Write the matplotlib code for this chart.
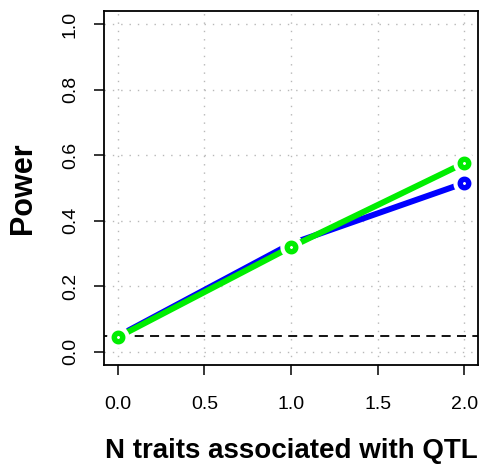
import matplotlib
matplotlib.use("Agg")
import matplotlib.pyplot as plt

# ---- Data ----
n_traits = [0, 1, 2]
power_blue = [0.048, 0.330, 0.515]
power_green = [0.045, 0.320, 0.576]
alpha_level = 0.05

x_ticks = [0.0, 0.5, 1.0, 1.5, 2.0]
y_ticks = [0.0, 0.2, 0.4, 0.6, 0.8, 1.0]

plt.rcParams["font.family"] = ["Liberation Sans", "DejaVu Sans"]

fig = plt.figure(figsize=(4.81, 4.66), dpi=100)
fig.patch.set_facecolor("white")
ax = fig.add_axes([0.2162, 0.2167, 0.9938 - 0.2162, 0.9764 - 0.2167])

ax.set_xlim(-0.08, 2.08)
ax.set_ylim(-0.04, 1.04)

# grid (dotted, R style)
for xv in x_ticks:
    ax.axvline(xv, color="#b8b8b8", lw=1.0, ls=(0, (1, 5)), zorder=0)
for yv in y_ticks:
    ax.axhline(yv, color="#b8b8b8", lw=1.0, ls=(0, (1, 5)), zorder=0)

# reference line
ax.axhline(alpha_level, color="black", lw=1.3, ls=(0, (5, 3.5)), zorder=1)

# ---- series, type="b" style ----
for ys, col, z in [(power_blue, "#0000ff", 2), (power_green, "#00ee00", 4)]:
    ax.plot(n_traits, ys, color=col, lw=4.3, solid_capstyle="butt", zorder=z)
    ax.plot(n_traits, ys, ls="none", marker="o", ms=16, mfc="white",
            mec="none", zorder=z + 0.5)
    ax.plot(n_traits, ys, ls="none", marker="o", ms=6.1, mfc="white",
            mec=col, mew=3.9, zorder=z + 0.6)

# ---- axes styling ----
for sp in ax.spines.values():
    sp.set_linewidth(1.3)
    sp.set_color("black")

ax.set_xticks(x_ticks)
ax.set_xticklabels([f"{v:.1f}" for v in x_ticks])
ax.set_yticks(y_ticks)
ax.set_yticklabels([f"{v:.1f}" for v in y_ticks], rotation=90, va="center")
ax.tick_params(direction="out", length=7, width=1.1, labelsize=14, pad=11,
               colors="black")
ax.tick_params(axis="x", pad=15)

ax.set_xlabel("N traits associated with QTL", fontsize=20, fontweight="bold",
              labelpad=18)
ax.set_ylabel("Power", fontsize=22, fontweight="bold", labelpad=17)

fig.savefig("out.png", dpi=100)
